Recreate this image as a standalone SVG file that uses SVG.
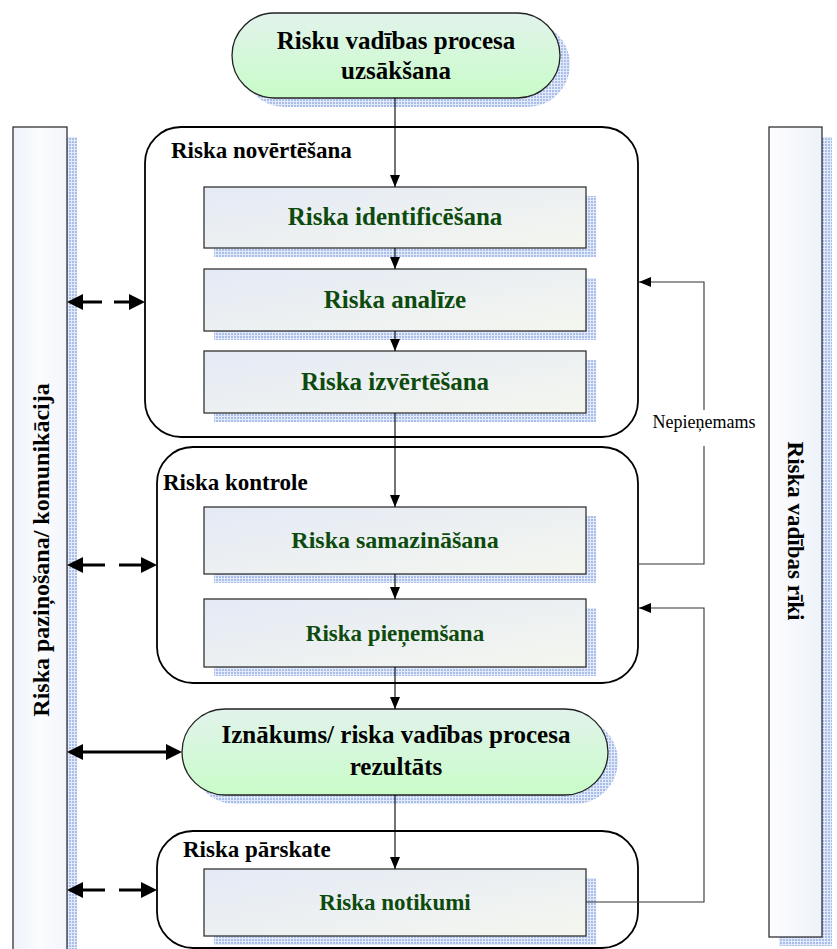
<svg xmlns="http://www.w3.org/2000/svg" width="837" height="949" viewBox="0 0 837 949">
<style>
  text { font-family: "Liberation Serif", "Times New Roman", serif; }
  .bold { font-weight: bold; }
  .group { fill: none; stroke: #000; stroke-width: 1.8; }
  .box { fill: url(#boxg); stroke: #333; stroke-width: 1.3; }
  .pill { fill: url(#greeng); stroke: #222; stroke-width: 1.3; }
  .shadow { fill: url(#chk); }
  .bar { stroke: #222; stroke-width: 1.2; }
  .boxtxt { font-weight: bold; fill: #0d4a0d; text-anchor: middle; }
  .pilltxt { font-weight: bold; fill: #000; text-anchor: middle; font-size: 25px; }
  .grouptxt { font-weight: bold; fill: #000; font-size: 23px; }
  .conn { fill: none; stroke: #000; stroke-width: 1.1; }
  .loop { fill: none; stroke: #333; stroke-width: 1.1; }
  .thick { fill: none; stroke: #000; stroke-width: 3; }
</style>
<defs>
  <pattern id="chk" width="3" height="3" patternUnits="userSpaceOnUse">
    <rect width="3" height="3" fill="#a9bfea"/>
    <rect x="0" y="2" width="3" height="1" fill="#e2e9f8"/>
    <rect x="2" y="0" width="1" height="3" fill="#e2e9f8"/>
  </pattern>
  <linearGradient id="boxg" x1="0" y1="0" x2="1" y2="1">
    <stop offset="0" stop-color="#e4eaf6"/>
    <stop offset="1" stop-color="#f4f6ee"/>
  </linearGradient>
  <linearGradient id="greeng" x1="0" y1="0" x2="0" y2="1">
    <stop offset="0" stop-color="#e2f3ec"/>
    <stop offset="1" stop-color="#c8fcc8"/>
  </linearGradient>
  <linearGradient id="barL" x1="0" y1="0" x2="1" y2="0">
    <stop offset="0" stop-color="#eef2fa"/>
    <stop offset="0.5" stop-color="#fbfcfe"/>
    <stop offset="1" stop-color="#f3f5fb"/>
  </linearGradient>
  <linearGradient id="barR" x1="0" y1="0" x2="1" y2="0">
    <stop offset="0" stop-color="#fdfdff"/>
    <stop offset="1" stop-color="#eef2fa"/>
  </linearGradient>
  <marker id="a" viewBox="0 0 12 10" refX="12" refY="5" markerWidth="12" markerHeight="10" markerUnits="userSpaceOnUse" orient="auto">
    <path d="M0,0 L12,5 L0,10 z" fill="#000"/>
  </marker>
  <marker id="big" viewBox="0 0 16 16" refX="0" refY="8" markerWidth="16" markerHeight="16" markerUnits="userSpaceOnUse" orient="auto-start-reverse">
    <path d="M0,0 L16,8 L0,16 z" fill="#000"/>
  </marker>
</defs>

<!-- side bars -->
<g id="bar-left">
  <rect class="shadow" x="67" y="137" width="10" height="820"/>
  <rect class="bar" x="13" y="127" width="54" height="830" fill="url(#barL)"/>
  <text class="bold" font-size="24" text-anchor="middle" transform="translate(49,550) rotate(-90)">Riska paziņošana/ komunikācija</text>
</g>
<g id="bar-right">
  <rect class="shadow" x="779" y="137" width="53" height="809"/>
  <rect class="bar" x="769" y="127" width="53" height="810" fill="url(#barR)"/>
  <text class="bold" font-size="23" text-anchor="middle" transform="translate(788,531) rotate(90)">Riska vadības rīki</text>
</g>

<!-- top node -->
<g id="start">
  <rect class="shadow" x="242" y="22" width="328" height="85" rx="42.5"/>
  <rect class="pill" x="232" y="13" width="328" height="85" rx="42.5"/>
  <text class="pilltxt" x="396" y="49">Risku vadības procesa</text>
  <text class="pilltxt" x="396" y="79">uzsākšana</text>
</g>

<!-- group: assessment -->
<g id="group-assessment">
  <rect class="group" x="145" y="127" width="493" height="310" rx="36"/>
  <text class="grouptxt" x="171" y="158">Riska novērtēšana</text>
</g>
<g id="box-identification">
  <rect class="shadow" x="214" y="196" width="382" height="61"/>
  <rect class="box" x="204" y="187" width="382" height="61"/>
  <text class="boxtxt" font-size="25" x="395" y="225">Riska identificēšana</text>
</g>
<g id="box-analysis">
  <rect class="shadow" x="214" y="278" width="382" height="62"/>
  <rect class="box" x="204" y="269" width="382" height="62"/>
  <text class="boxtxt" font-size="25" x="395" y="308">Riska analīze</text>
</g>
<g id="box-evaluation">
  <rect class="shadow" x="214" y="360" width="382" height="62"/>
  <rect class="box" x="204" y="351" width="382" height="62"/>
  <text class="boxtxt" font-size="25" x="395" y="390">Riska izvērtēšana</text>
</g>

<!-- group: control -->
<g id="group-control">
  <rect class="group" x="157" y="447" width="481" height="236" rx="36"/>
  <text class="grouptxt" x="163" y="490">Riska kontrole</text>
</g>
<g id="box-reduction">
  <rect class="shadow" x="214" y="516" width="382" height="67"/>
  <rect class="box" x="204" y="507" width="382" height="67"/>
  <text class="boxtxt" font-size="24" x="395" y="548">Riska samazināšana</text>
</g>
<g id="box-acceptance">
  <rect class="shadow" x="214" y="608" width="382" height="68"/>
  <rect class="box" x="204" y="599" width="382" height="68"/>
  <text class="boxtxt" font-size="23" x="395" y="641">Riska pieņemšana</text>
</g>

<!-- outcome node -->
<g id="outcome">
  <rect class="shadow" x="192" y="718" width="426" height="86" rx="43"/>
  <rect class="pill" x="182" y="709" width="426" height="86" rx="43"/>
  <text class="pilltxt" x="396" y="743">Iznākums/ riska vadības procesa</text>
  <text class="pilltxt" x="396" y="775">rezultāts</text>
</g>

<!-- group: review -->
<g id="group-review">
  <rect class="group" x="157" y="831" width="481" height="117" rx="36"/>
  <text class="grouptxt" x="183" y="857">Riska pārskate</text>
</g>
<g id="box-events">
  <rect class="shadow" x="214" y="878" width="382" height="67"/>
  <rect class="box" x="204" y="869" width="382" height="67"/>
  <text class="boxtxt" font-size="23" x="395" y="910">Riska notikumi</text>
</g>

<!-- connectors -->
<g id="connectors">
  <line class="conn" x1="395" y1="98" x2="395" y2="187" marker-end="url(#a)"/>
  <line class="conn" x1="395" y1="248" x2="395" y2="269" marker-end="url(#a)"/>
  <line class="conn" x1="395" y1="331" x2="395" y2="351" marker-end="url(#a)"/>
  <line class="conn" x1="395" y1="413" x2="395" y2="507" marker-end="url(#a)"/>
  <line class="conn" x1="395" y1="574" x2="395" y2="599" marker-end="url(#a)"/>
  <line class="conn" x1="395" y1="667" x2="395" y2="709" marker-end="url(#a)"/>
  <line class="conn" x1="395" y1="795" x2="395" y2="869" marker-end="url(#a)"/>
  <path class="loop" d="M638,564 H704 V446 M704,410 V282 H639" marker-end="url(#a)"/>
  <path class="loop" d="M586,902 H704 V608 H639" marker-end="url(#a)"/>
  <text x="704" y="428" font-size="18" text-anchor="middle" fill="#000">Nepieņemams</text>
  <line class="thick" x1="83" y1="302" x2="129" y2="302" stroke-dasharray="19 12" marker-start="url(#big)" marker-end="url(#big)"/>
  <line class="thick" x1="83" y1="565" x2="141" y2="565" stroke-dasharray="22 14" marker-start="url(#big)" marker-end="url(#big)"/>
  <line class="thick" x1="83" y1="752" x2="166" y2="752" marker-start="url(#big)" marker-end="url(#big)"/>
  <line class="thick" x1="83" y1="890" x2="141" y2="890" stroke-dasharray="22 14" marker-start="url(#big)" marker-end="url(#big)"/>
</g>
</svg>
